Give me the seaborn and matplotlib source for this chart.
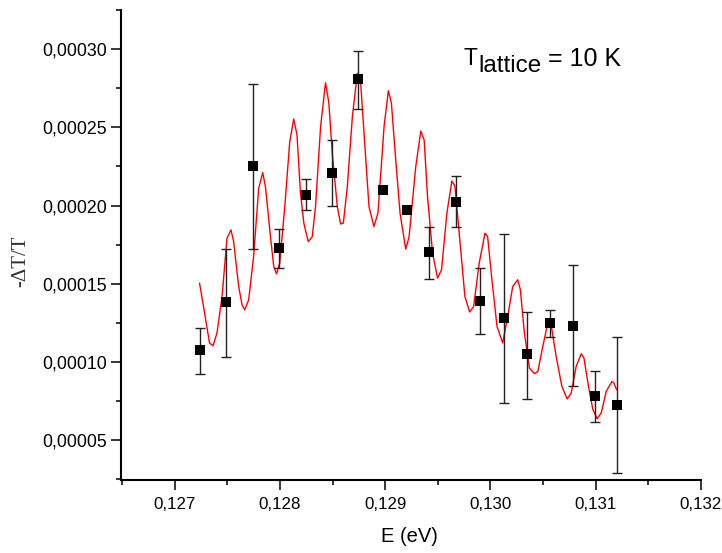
import numpy as np
import pandas as pd
import matplotlib
matplotlib.use("Agg")
import matplotlib.pyplot as plt
from matplotlib.ticker import MultipleLocator, FuncFormatter
import seaborn as sns

# ---- data: measured points (E in eV, -dT/T) with asymmetric error bars ----
energy = [0.127236, 0.12749, 0.127745, 0.127995, 0.128252, 0.12849, 0.128738,
          0.128976, 0.129211, 0.129417, 0.129671, 0.129903, 0.130129, 0.130345,
          0.130567, 0.130783, 0.130992, 0.1312]
signal = [0.0001078, 0.000138, 0.000225, 0.000173, 0.000207, 0.000221, 0.000281,
          0.000210, 0.000197, 0.000170, 0.0002025, 0.000139, 0.000128, 0.000105,
          0.000125, 0.000123, 0.000078, 0.0000725]
err_low = [0.000092, 0.000103, 0.000172, 0.000160, 0.000197, 0.000200, 0.000262,
           0.000210, 0.000197, 0.000153, 0.000186, 0.000118, 0.000074, 0.0000765,
           0.000116, 0.0000848, 0.0000614, 0.0000288]
err_high = [0.000122, 0.000172, 0.000278, 0.000185, 0.000217, 0.000242, 0.000299,
            0.000210, 0.000197, 0.000186, 0.000219, 0.000160, 0.000182, 0.000132,
            0.000133, 0.000162, 0.0000942, 0.000116]

# ---- data: fitted (red) curve ----
fit_e = [0.127236, 0.127274, 0.127331, 0.127364, 0.127402, 0.127450, 0.127497,
         0.127535, 0.127560, 0.127608, 0.127640, 0.127665, 0.127703, 0.127750,
         0.127798, 0.127836, 0.127862, 0.127910, 0.127941, 0.127967, 0.127998,
         0.128046, 0.128093, 0.128131, 0.128162, 0.128195, 0.128227, 0.128269,
         0.128307, 0.128338, 0.128386, 0.128433, 0.128465, 0.128497, 0.128545,
         0.128576, 0.128602, 0.128640, 0.128688, 0.128735, 0.128767, 0.128805,
         0.128846, 0.128893, 0.128931, 0.128989, 0.129030, 0.129059, 0.129100,
         0.129141, 0.129195, 0.129227, 0.129290, 0.129338, 0.129370, 0.129402,
         0.129450, 0.129497, 0.129535, 0.129586, 0.129633, 0.129662, 0.129703,
         0.129757, 0.129802, 0.129840, 0.129893, 0.129948, 0.129973, 0.130014,
         0.130062, 0.130116, 0.130164, 0.130211, 0.130259, 0.130284, 0.130322,
         0.130370, 0.130417, 0.130450, 0.130497, 0.130550, 0.130576, 0.130624,
         0.130678, 0.130729, 0.130767, 0.130814, 0.130862, 0.130888, 0.130931,
         0.130973, 0.131014, 0.131052, 0.131100, 0.131154, 0.131173, 0.131198]
fit_s = [0.0001504, 0.0001354, 0.0001121, 0.0001103, 0.0001185, 0.0001418, 0.0001791,
         0.0001844, 0.0001769, 0.0001482, 0.0001365, 0.0001333, 0.0001397, 0.0001674,
         0.0002110, 0.0002210, 0.0002121, 0.0001801, 0.0001610, 0.0001563, 0.0001632,
         0.0001993, 0.0002408, 0.0002553, 0.0002451, 0.0002079, 0.0001887, 0.0001769,
         0.0001801, 0.0001993, 0.0002504, 0.0002785, 0.0002653, 0.0002334, 0.0001993,
         0.0001882, 0.0001887, 0.0002121, 0.0002568, 0.0002845, 0.0002781, 0.0002398,
         0.0001993, 0.0001865, 0.0001951, 0.0002504, 0.0002734, 0.0002653, 0.0002291,
         0.0001951, 0.0001721, 0.0001801, 0.0002248, 0.0002476, 0.0002419, 0.0002057,
         0.0001695, 0.0001536, 0.0001589, 0.0001951, 0.0002157, 0.0002125, 0.0001823,
         0.0001418, 0.0001319, 0.0001354, 0.0001632, 0.0001823, 0.0001801, 0.0001525,
         0.0001227, 0.0001121, 0.0001291, 0.0001482, 0.0001525, 0.0001461, 0.0001185,
         0.0000961, 0.0000925, 0.0000939, 0.0001099, 0.0001265, 0.0001238, 0.0001035,
         0.0000844, 0.0000763, 0.0000801, 0.0000971, 0.0001052, 0.0001025, 0.0000844,
         0.0000695, 0.0000637, 0.0000674, 0.0000812, 0.0000875, 0.0000865, 0.0000822]

x_ticks = [0.127, 0.128, 0.129, 0.130, 0.131, 0.132]
y_ticks = [0.00005, 0.00010, 0.00015, 0.00020, 0.00025, 0.00030]

# ---- style ----
sns.set_theme(style="ticks")
plt.rcParams["font.family"] = ["Liberation Sans", "DejaVu Sans"]
plt.rcParams["axes.linewidth"] = 1.5

fig = plt.figure(figsize=(7.22, 5.53), dpi=100)
ax = fig.add_axes([121 / 722, 73 / 553, 580 / 722, 470 / 553])

pts = pd.DataFrame({"E": energy, "S": signal, "lo": err_low, "hi": err_high})
fit = pd.DataFrame({"E": fit_e, "S": fit_s})

sns.lineplot(data=fit, x="E", y="S", sort=False, color="#ff0000", lw=1.0,
             ax=ax, zorder=2, legend=False)

mask = pts["hi"] > pts["lo"]
sub = pts[mask]
ax.errorbar(sub["E"], sub["S"],
            yerr=[sub["S"] - sub["lo"], sub["hi"] - sub["S"]],
            fmt="none", ecolor="#222222", elinewidth=1.0, capsize=3.3,
            capthick=1.0, zorder=3)

sns.scatterplot(data=pts, x="E", y="S", marker="s", s=44, color="black",
                linewidth=0, ax=ax, zorder=4, legend=False)

ax.set_xlim(0.12649, 0.132)
ax.set_ylim(0.0000245, 0.000325)
ax.set_xticks(x_ticks)
ax.set_yticks(y_ticks)
ax.xaxis.set_minor_locator(MultipleLocator(0.0005))
ax.yaxis.set_minor_locator(MultipleLocator(0.000025))
ax.xaxis.set_major_formatter(FuncFormatter(lambda v, p: f"{v:.3f}".replace(".", ",")))
ax.yaxis.set_major_formatter(FuncFormatter(lambda v, p: f"{v:.5f}".replace(".", ",")))

ax.tick_params(which="major", direction="out", length=7, width=1.1,
               pad=3, color="black", labelcolor="black")
ax.tick_params(which="minor", direction="out", length=3.5, width=1.1, color="black")
ax.tick_params(axis="y", which="major", labelsize=12.8)
ax.tick_params(axis="x", which="major", pad=5, labelsize=12.2)

for side in ["top", "right"]:
    ax.spines[side].set_visible(False)
for side in ["left", "bottom"]:
    ax.spines[side].set_color("black")
    ax.spines[side].set_linewidth(1.5)

ax.set_xlabel("")
ax.set_ylabel("")
fig.text(409 / 722, 1 - 537 / 553, "E (eV)", ha="center", va="center",
         fontsize=14.5, color="black")
fig.text(21 / 722, 1 - 261 / 553, "-ΔT/T", ha="center", va="center",
         rotation=90, fontsize=15, color="#333333",
         family=["Liberation Serif", "DejaVu Serif"])

fig.text(463 / 722, 1 - 65 / 553, "T", ha="left", va="baseline",
         fontsize=16.5, color="black")
fig.text(478 / 722, 1 - 72.5 / 553, "lattice", ha="left", va="baseline",
         fontsize=17.5, color="black")
fig.text(548 / 722, 1 - 65.5 / 553, "= 10 K", ha="left", va="baseline",
         fontsize=18, color="black")

fig.savefig("out.png", dpi=100)
